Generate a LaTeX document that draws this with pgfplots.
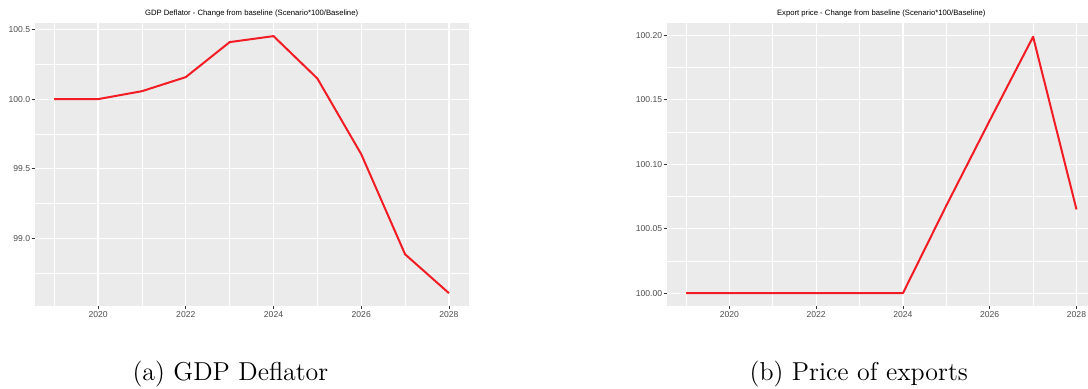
\documentclass[border=0pt]{standalone}
\usepackage{fontspec}
\newfontfamily\arial{Liberation Sans}
\usepackage{pgfplots}
\pgfplotsset{compat=1.18}
\definecolor{panelbg}{HTML}{EBEBEB}
\definecolor{ticklab}{HTML}{4D4D4D}
\definecolor{tickcol}{HTML}{333333}
\definecolor{linered}{HTML}{F21C24}
\pgfplotsset{gg/.style={
  scale only axis, height=141.35pt,
  axis background/.style={fill=panelbg},
  axis line style={draw=none},
  grid=both,
  major grid style={white, line width=0.6pt},
  minor grid style={white, line width=0.3pt},
  tick align=outside,
  major tick length=1.5pt,
  minor tick length=0pt,
  tick style={tickcol, line width=0.4pt},
  xtick pos=left, ytick pos=left,
  xmin=2018.55, xmax=2028.45,
  xtick={2020,2022,2024,2026,2028},
  minor xtick={2019,2021,2023,2025,2027},
  /pgf/number format/assume math mode=true,
  ticklabel style={font=\arial\fontsize{4.3}{5}\selectfont, text=ticklab},
  xticklabel style={/pgf/number format/1000 sep={}, inner sep=0pt, yshift=-1.1pt},
  yticklabel style={inner sep=0pt, xshift=-0.5pt},
  title style={font=\arial\fontsize{3.85}{4.5}\selectfont, at={(0.5,1)}, anchor=center, yshift=-1.35pt, inner sep=0pt},
}}
\begin{document}
\begin{tikzpicture}
\useasboundingbox (0,0) rectangle (544pt,-194.5pt);
\clip (0,0) rectangle (544pt,-194.5pt);
\begin{axis}[gg, at={(17.25pt,-153pt)}, anchor=south west, width=217.1pt,
  ymin=98.516, ymax=100.544,
  ytick={99,99.5,100,100.5},
  minor ytick={98.75,99.25,99.75,100.25},
  yticklabel style={/pgf/number format/.cd, fixed, fixed zerofill, precision=1},
  title={GDP Deflator - Change from baseline (Scenario*100/Baseline)}]
\addplot[linered, line width=1pt, line join=round, no markers] coordinates {
(2019,100.000) (2020,100.000) (2021,100.057) (2022,100.158) (2023,100.409)
(2024,100.452) (2025,100.148) (2026,99.605) (2027,98.887) (2028,98.608)};
\end{axis}
\begin{axis}[gg, at={(333.25pt,-153pt)}, anchor=south west, width=214.75pt,
  ymin=99.99005, ymax=100.20945,
  ytick={100,100.05,100.1,100.15,100.2},
  minor ytick={100.025,100.075,100.125,100.175},
  yticklabel style={/pgf/number format/.cd, fixed, fixed zerofill, precision=2},
  title={Export price - Change from baseline (Scenario*100/Baseline)}]
\addplot[linered, line width=1pt, line join=round, no markers] coordinates {
(2019,100.000) (2020,100.000) (2021,100.000) (2022,100.000) (2023,100.000)
(2024,100.000) (2025,100.068) (2026,100.134) (2027,100.199) (2028,100.065)};
\end{axis}
\node[anchor=base, inner sep=0pt, font=\fontsize{12.95}{15}\selectfont] at (115.2pt,-190.3pt) {(a) GDP Deflator};
\node[anchor=base, inner sep=0pt, font=\fontsize{12.95}{15}\selectfont] at (429.4pt,-190.3pt) {(b) Price of exports};
\end{tikzpicture}
\end{document}
